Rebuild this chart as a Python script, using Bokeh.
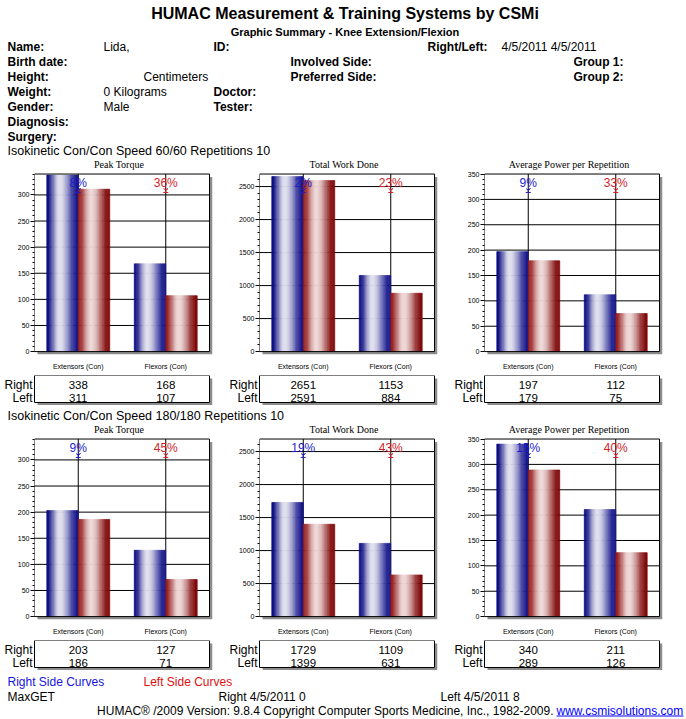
import numpy as np
from bokeh.plotting import figure
from bokeh.layouts import column, row
from bokeh.models import Range1d, FixedTicker, ColumnDataSource
from bokeh.core.properties import value
from bokeh.embed import file_html
from bokeh.resources import INLINE

# ---------------- data ----------------
categories = ["Extensors (Con)", "Flexors (Con)"]
measures = ["Peak Torque", "Total Work Done", "Average Power per Repetition"]
sides = ["Right", "Left"]
y_max = [340, 2690, 350]
y_major_step = [50, 500, 50]
y_minor_step = [10, 100, 10]

peak_right_60 = [338, 168]
peak_left_60 = [311, 107]
work_right_60 = [2651, 1153]
work_left_60 = [2591, 884]
power_right_60 = [197, 112]
power_left_60 = [179, 75]
deficit_peak_60 = ["8%", "36%"]
deficit_work_60 = ["2%", "23%"]
deficit_power_60 = ["9%", "33%"]

peak_right_180 = [203, 127]
peak_left_180 = [186, 71]
work_right_180 = [1729, 1109]
work_left_180 = [1399, 631]
power_right_180 = [340, 211]
power_left_180 = [289, 126]
deficit_peak_180 = ["9%", "45%"]
deficit_work_180 = ["19%", "43%"]
deficit_power_180 = ["15%", "40%"]

session_titles = ["Isokinetic Con/Con  Speed 60/60 Repetitions 10",
                  "Isokinetic Con/Con  Speed 180/180 Repetitions 10"]

# ---------------- style / layout ----------------
FONT = "Liberation Sans"
SERIF = "Liberation Serif"
BLUE_TXT = "#1e1ec8"
RED_TXT = "#d21e28"
DEF_COLORS = [BLUE_TXT, RED_TXT]
SHADOW = "#8c8c8c"

FIG_W = 686
BOX_W, BOX_H, SH = 175, 183, 3
TS, BB = 16, 12            # title space above box, bottom border for x labels
TBL_T, TBL_H = 3, 27
BAR_W = 0.36
N_STRIPES = 26
COL_START = [0, 225, 450]
COL_BL = [34, 34, 34]
COL_W = [225, 225, 236]
HEADER_H = 158
MID_H = 18
CHART_H = TS + BOX_H + SH + BB
TABLE_H = TBL_T + TBL_H + SH
FOOTER_H = 719 - (HEADER_H + MID_H + 2 * (CHART_H + TABLE_H))


def gradient(left_dark, light, right_dark, peak=0.42):
    out = []
    for i in range(N_STRIPES):
        t = (i + 0.5) / N_STRIPES
        if t < peak:
            f = 0.5 * (1 + np.cos(np.pi * (t - peak) / peak))
            dark = left_dark
        else:
            f = 0.5 * (1 + np.cos(np.pi * (t - peak) / (1 - peak)))
            dark = right_dark
        c = tuple(int(round(d + (l - d) * f)) for d, l in zip(dark, light))
        out.append("#%02x%02x%02x" % c)
    return out


BLUE_GRAD = gradient((8, 8, 128), (224, 224, 238), (22, 22, 140))
RED_GRAD = gradient((150, 28, 28), (238, 216, 216), (128, 8, 8))


def text_fig(h):
    p = figure(width=FIG_W, height=h, x_range=Range1d(0, FIG_W), y_range=Range1d(h, 0),
               output_backend="svg", toolbar_location=None, min_border=0,
               x_axis_location=None, y_axis_location=None)
    p.outline_line_color = None
    p.xgrid.visible = False
    p.ygrid.visible = False
    return p


def put(p, x, y, txt, size="12px", bold=False, color="black", align="left", font=FONT):
    p.text(x=[x], y=[y], text=[txt], text_font=value(font), text_font_size=size,
           text_font_style="bold" if bold else "normal", text_color=color,
           text_align=align, text_baseline="middle")


def make_chart(ci, right_vals, left_vals, deficits):
    ymax = y_max[ci]
    ux = BOX_W / 2.0
    uy = BOX_H / ymax
    w = COL_W[ci]
    p = figure(width=w, height=CHART_H,
               x_range=Range1d(0, 2 + SH / ux), y_range=Range1d(-SH / uy, ymax + TS / uy),
               output_backend="svg", toolbar_location=None,
               min_border_left=COL_BL[ci], min_border_right=w - COL_BL[ci] - BOX_W - SH,
               min_border_top=0, min_border_bottom=BB)
    p.outline_line_color = None
    p.xgrid.visible = False
    p.ygrid.visible = False
    # chart title
    p.text(x=[1 - 3 / ux], y=[ymax + 10 / uy], text=[measures[ci]], text_font=value(SERIF),
           text_font_size="10px", text_align="center", text_baseline="middle")
    # shadow + box
    p.quad(left=[SH / ux], right=[2 + SH / ux], top=[ymax - SH / uy], bottom=[-SH / uy],
           fill_color=SHADOW, line_color=None)
    p.quad(left=[0], right=[2], top=[ymax], bottom=[0], fill_color="white", line_color=None)
    majors = list(range(0, ymax + 1, y_major_step[ci]))
    hl = [m for m in majors if 0 < m < ymax]
    p.segment(x0=[0] * len(hl), x1=[2] * len(hl), y0=hl, y1=hl, line_color="black", line_width=1)
    centers = [i + 0.5 for i in range(len(categories))]
    p.segment(x0=centers, x1=centers, y0=[0] * len(centers), y1=[ymax] * len(centers),
              line_color="black", line_width=1)
    # gradient bars
    for s, (vals, cols) in enumerate([(right_vals, BLUE_GRAD), (left_vals, RED_GRAD)]):
        xs, tops, fills = [], [], []
        for j, v in enumerate(vals):
            left_edge = centers[j] - BAR_W + s * BAR_W
            for k in range(N_STRIPES):
                xs.append(left_edge + (k + 0.5) * BAR_W / N_STRIPES)
                tops.append(v)
                fills.append(cols[k])
        src = ColumnDataSource(dict(x=xs, top=tops, c=fills))
        p.vbar(x="x", top="top", bottom=0, width=BAR_W / N_STRIPES, fill_color="c",
               line_color="c", line_width=0.6, source=src)
    p.quad(left=[0], right=[2], top=[ymax], bottom=[0], fill_color=None,
           line_color="black", line_width=1)
    # deficit labels
    p.text(x=centers, y=[ymax] * 2, text=deficits, text_color=DEF_COLORS,
           text_font=value(FONT), text_font_size="12px", text_align="center",
           text_baseline="middle", y_offset=9)
    p.scatter(x=centers, y=[ymax - 16.5 / uy] * 2, marker="y", size=5, line_color=DEF_COLORS)
    p.scatter(x=centers, y=[ymax - 19 / uy] * 2, marker="dash", size=5, line_color=DEF_COLORS)
    # axes
    ya = p.yaxis[0]
    ya.ticker = FixedTicker(ticks=majors, minor_ticks=list(range(0, ymax + 1, y_minor_step[ci])))
    ya.axis_line_color = None
    ya.major_tick_in = 0
    ya.major_tick_out = 4
    ya.minor_tick_in = 0
    ya.minor_tick_out = 2
    ya.major_label_standoff = 1
    ya.major_label_text_font = FONT
    ya.major_label_text_font_size = "7px"
    ya.major_label_text_color = "black"
    xa = p.xaxis[0]
    xa.ticker = FixedTicker(ticks=centers)
    xa.major_label_overrides = {c: lab for c, lab in zip(centers, categories)}
    xa.axis_line_color = None
    xa.major_tick_line_color = None
    xa.minor_tick_line_color = None
    xa.major_label_standoff = 2
    xa.major_label_text_font = FONT
    xa.major_label_text_font_size = "7px"
    xa.major_label_text_color = "black"
    return p


def make_table(ci, right_vals, left_vals):
    ux = BOX_W / 2.0
    uy = TBL_H / 2.0
    w = COL_W[ci]
    p = figure(width=w, height=TABLE_H,
               x_range=Range1d(-COL_BL[ci] / ux, 2 + SH / ux), y_range=Range1d(-SH / uy, 2),
               output_backend="svg", toolbar_location=None,
               min_border_left=0, min_border_right=w - COL_BL[ci] - BOX_W - SH,
               min_border_top=TBL_T, min_border_bottom=0,
               x_axis_location=None, y_axis_location=None)
    p.outline_line_color = None
    p.xgrid.visible = False
    p.ygrid.visible = False
    p.quad(left=[SH / ux], right=[2 + SH / ux], top=[2 - SH / uy], bottom=[-SH / uy],
           fill_color=SHADOW, line_color=None)
    p.quad(left=[0], right=[2], top=[2], bottom=[0], fill_color="white",
           line_color="black", line_width=1)
    row_y = [len(sides) - i - 0.67 for i in range(len(sides))]
    p.text(x=[0] * len(sides), y=row_y, text=sides, x_offset=-2, text_font=value(FONT),
           text_font_size="12px", text_align="right", text_baseline="middle")
    centers = [i + 0.5 for i in range(len(categories))]
    for i, vals in enumerate([right_vals, left_vals]):
        p.text(x=centers, y=[row_y[i]] * len(vals), text=[str(v) for v in vals],
               text_font=value(FONT), text_font_size="11.5px", text_align="center",
               text_baseline="middle")
    return p


# ---------------- header ----------------
hdr = text_fig(HEADER_H)
put(hdr, 344.5, 13, "HUMAC Measurement & Training Systems by CSMi", size="16px", bold=True, align="center")
put(hdr, 344.5, 31, "Graphic Summary - Knee Extension/Flexion", size="11px", bold=True, align="center")
row_labels = ["Name:", "Birth date:", "Height:", "Weight:", "Gender:", "Diagnosis:", "Surgery:"]
ROW_Y = [46 + 15 * i for i in range(len(row_labels))]
for i, lab in enumerate(row_labels):
    put(hdr, 7, ROW_Y[i], lab, bold=True)
put(hdr, 103, ROW_Y[0], "Lida,")
put(hdr, 213, ROW_Y[0], "ID:", bold=True)
put(hdr, 427, ROW_Y[0], "Right/Left:", bold=True)
put(hdr, 501, ROW_Y[0], "4/5/2011 4/5/2011")
put(hdr, 290, ROW_Y[1], "Involved Side:", bold=True)
put(hdr, 573, ROW_Y[1], "Group 1:", bold=True)
put(hdr, 143, ROW_Y[2], "Centimeters")
put(hdr, 290, ROW_Y[2], "Preferred Side:", bold=True)
put(hdr, 573, ROW_Y[2], "Group 2:", bold=True)
put(hdr, 103, ROW_Y[3], "0 Kilograms")
put(hdr, 213, ROW_Y[3], "Doctor:", bold=True)
put(hdr, 103, ROW_Y[4], "Male")
put(hdr, 213, ROW_Y[4], "Tester:", bold=True)
put(hdr, 7, 150, session_titles[0], size="12.5px")

# ---------------- middle ----------------
mid = text_fig(MID_H)
put(mid, 7, 10, session_titles[1], size="12.5px")

# ---------------- footer ----------------
ftr = text_fig(FOOTER_H)
put(ftr, 7, 11, "Right Side Curves", color="#1414dc")
put(ftr, 143, 11, "Left Side Curves", color="#e01010")
put(ftr, 7, 26, "MaxGET")
put(ftr, 218, 26, "Right 4/5/2011 0")
put(ftr, 440, 26, "Left 4/5/2011 8")
put(ftr, 553, 40, "HUMAC\u00ae /2009 Version: 9.8.4 Copyright Computer Sports Medicine, Inc., 1982-2009.",
    align="right")
put(ftr, 556, 40, "www.csmisolutions.com", color="#0000ff", align="left")
ftr.segment(x0=[556], x1=[683], y0=[45.5], y1=[45.5], line_color="#0000ff", line_width=1)

# ---------------- charts ----------------
sets60 = [(peak_right_60, peak_left_60, deficit_peak_60),
          (work_right_60, work_left_60, deficit_work_60),
          (power_right_60, power_left_60, deficit_power_60)]
sets180 = [(peak_right_180, peak_left_180, deficit_peak_180),
           (work_right_180, work_left_180, deficit_work_180),
           (power_right_180, power_left_180, deficit_power_180)]

charts60 = [make_chart(i, *sets60[i]) for i in range(3)]
tables60 = [make_table(i, sets60[i][0], sets60[i][1]) for i in range(3)]
charts180 = [make_chart(i, *sets180[i]) for i in range(3)]
tables180 = [make_table(i, sets180[i][0], sets180[i][1]) for i in range(3)]

layout = column(hdr, row(*charts60, spacing=0), row(*tables60, spacing=0), mid,
                row(*charts180, spacing=0), row(*tables180, spacing=0), ftr, spacing=0)

open("out.html", "w").write(file_html(layout, INLINE))
